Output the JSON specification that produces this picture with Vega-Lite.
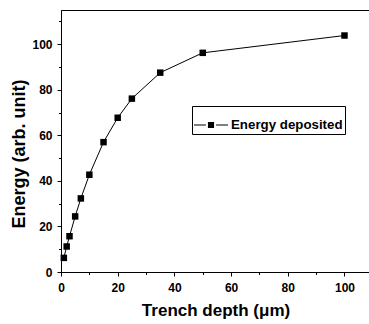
{
  "$schema": "https://vega.github.io/schema/vega-lite/v6.json",
  "width": 309,
  "height": 262,
  "autosize": {"type": "none"},
  "padding": {"left": 61, "top": 10, "right": 0, "bottom": 52},
  "background": "white",
  "config": {
    "view": {"stroke": "black", "strokeWidth": 1},
    "font": "Liberation Sans",
    "axis": {
      "grid": false,
      "domainColor": "black",
      "tickColor": "black",
      "labelColor": "black",
      "titleColor": "black",
      "labelFont": "Liberation Sans",
      "titleFont": "Liberation Sans",
      "labelFontWeight": "bold",
      "titleFontWeight": "bold",
      "labelFontSize": 12,
      "labelFlush": false,
      "labelOverlap": false
    }
  },
  "data": {
    "values": [
      {"depth": 1, "energy": 6.2, "series": "Energy deposited"},
      {"depth": 2, "energy": 11.2, "series": "Energy deposited"},
      {"depth": 3, "energy": 15.7, "series": "Energy deposited"},
      {"depth": 5, "energy": 24.4, "series": "Energy deposited"},
      {"depth": 7, "energy": 32.3, "series": "Energy deposited"},
      {"depth": 10, "energy": 42.7, "series": "Energy deposited"},
      {"depth": 15, "energy": 57.0, "series": "Energy deposited"},
      {"depth": 20, "energy": 67.7, "series": "Energy deposited"},
      {"depth": 25, "energy": 76.1, "series": "Energy deposited"},
      {"depth": 35, "energy": 87.5, "series": "Energy deposited"},
      {"depth": 50, "energy": 96.2, "series": "Energy deposited"},
      {"depth": 100, "energy": 103.8, "series": "Energy deposited"}
    ]
  },
  "layer": [
    {
      "mark": {"type": "line", "color": "black", "strokeWidth": 1},
      "encoding": {
        "x": {
          "field": "depth", "type": "quantitative",
          "scale": {"domain": [0, 109], "nice": false, "zero": false},
          "axis": {
            "orient": "bottom",
            "values": [0, 20, 40, 60, 80, 100],
            "tickSize": 4,
            "labelPadding": 6,
            "title": "Trench depth (μm)",
            "titleFontSize": 17,
            "titlePadding": 9
          }
        },
        "y": {
          "field": "energy", "type": "quantitative",
          "scale": {"domain": [0, 115], "nice": false},
          "axis": {
            "orient": "left",
            "values": [0, 20, 40, 60, 80, 100],
            "tickSize": 4,
            "labelPadding": 5,
            "title": "Energy (arb. unit)",
            "titleFontSize": 18,
            "titleAngle": -90,
            "titleBaseline": "alphabetic",
            "titleAlign": "center",
            "titleX": -37,
            "titleY": 143.5
          }
        }
      }
    },
    {
      "mark": {"type": "point", "filled": true, "shape": "square", "size": 42, "opacity": 1},
      "encoding": {
        "x": {
          "field": "depth", "type": "quantitative",
          "axis": {
            "orient": "bottom",
            "values": [10, 30, 50, 70, 90],
            "tickSize": 2.5,
            "labels": false,
            "domain": false,
            "title": null
          }
        },
        "y": {
          "field": "energy", "type": "quantitative",
          "axis": {
            "orient": "left",
            "values": [10, 30, 50, 70, 90, 110],
            "tickSize": 2.5,
            "labels": false,
            "domain": false,
            "title": null
          }
        },
        "color": {
          "field": "series", "type": "nominal",
          "scale": {"range": ["black"]},
          "legend": {
            "title": null,
            "orient": "none",
            "legendX": 131,
            "legendY": 96,
            "strokeColor": "black",
            "fillColor": "white",
            "padding": 2,
            "symbolType": "M-1,-0.03H-0.3V0.03H-1Z M0.3,-0.03H1V0.03H0.3Z M-0.18,-0.18H0.18V0.18H-0.18Z",
            "symbolSize": 1156,
            "symbolStrokeWidth": 0,
            "symbolFillColor": "black",
            "symbolOpacity": 1,
            "labelFont": "Liberation Sans",
            "labelFontSize": 13.3,
            "labelFontWeight": "bold",
            "labelColor": "black",
            "labelOffset": 3
          }
        }
      }
    }
  ],
  "resolve": {"axis": {"x": "independent", "y": "independent"}}
}
